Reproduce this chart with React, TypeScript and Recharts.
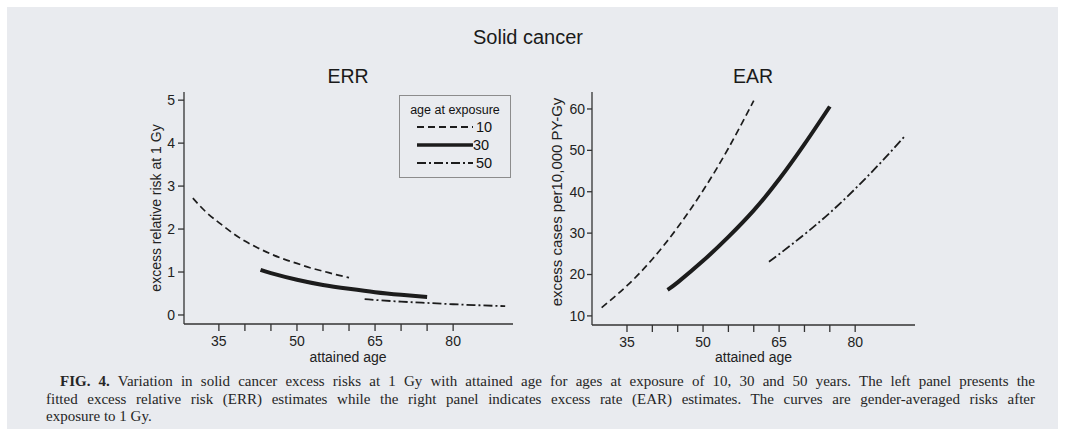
import React from 'react';
import { LineChart, Line, XAxis, YAxis, Legend } from 'recharts';

// attained age (years) and fitted risks
const errAge10 = [30, 32.5, 35, 37.5, 40, 42.5, 45, 47.5, 50, 52.5, 55, 57.5, 60];
const errRisk10 = [2.72, 2.4, 2.15, 1.92, 1.72, 1.56, 1.42, 1.3, 1.2, 1.1, 1.02, 0.94, 0.87];
const errAge30 = [43, 45, 50, 55, 60, 65, 70, 75];
const errRisk30 = [1.05, 0.975, 0.82, 0.7, 0.61, 0.53, 0.47, 0.42];
const errAge50 = [63, 65, 70, 75, 80, 85, 90];
const errRisk50 = [0.37, 0.35, 0.31, 0.28, 0.25, 0.226, 0.205];

const earAge10 = [30, 35, 40, 45, 50, 55, 60];
const earRate10 = [12, 17.3, 23.7, 31.4, 40.3, 50.5, 62];
const earAge30 = [43, 45, 50, 55, 60, 65, 70, 75];
const earRate30 = [16.3, 18.1, 23.3, 29.1, 35.5, 43.0, 51.5, 60.6];
const earAge50 = [63, 65, 70, 75, 80, 85, 90];
const earRate50 = [23.1, 24.9, 29.7, 34.9, 40.7, 47.0, 53.7];

const exposureAges = ['10', '30', '50'];
const ageTicks = [35, 40, 45, 50, 55, 60, 65, 70, 75, 80];
const ageTickLabels = [35, 50, 65, 80];
const errTicks = [0, 1, 2, 3, 4, 5];
const earTicks = [10, 20, 30, 40, 50, 60];

const captionLines = [
  'Variation in solid cancer excess risks at 1 Gy with attained age for ages at exposure of 10, 30 and 50 years. The left panel presents the',
  'fitted excess relative risk (ERR) estimates while the right panel indicates excess rate (EAR) estimates. The curves are gender-averaged risks after',
  'exposure to 1 Gy.',
];

const toPoints = (ages: number[], vals: number[]) => ages.map((age, i) => ({ age, value: vals[i] }));

const ink = '#1c1c1c';
const sans = '"Liberation Sans", Arial, sans-serif';
const serif = '"Liberation Serif", serif';
const lineStyles = [
  { dash: '7 4', width: 1.7 },
  { dash: undefined, width: 4 },
  { dash: '9 3 2 3', width: 1.8 },
];

const errSeries = [toPoints(errAge10, errRisk10), toPoints(errAge30, errRisk30), toPoints(errAge50, errRisk50)];
const earSeries = [toPoints(earAge10, earRate10), toPoints(earAge30, earRate30), toPoints(earAge50, earRate50)];

const axisStyle = { stroke: '#333', strokeWidth: 1.3 };
const tickStyle = { fill: '#222', fontSize: 14, fontFamily: sans };

const ageFormat = (v: number) => (ageTickLabels.includes(v) ? String(v) : '');

const sideTitle = (text: string, cx: number, cy: number, size: number) => () => (
  <text x={cx} y={cy} transform={`rotate(-90 ${cx} ${cy})`} textAnchor="middle" dominantBaseline="central"
    fill="#222" fontSize={size} fontFamily={sans}>{text}</text>
);

const bottomTitle = (text: string, cx: number) => () => (
  <text x={cx} y={362} textAnchor="middle" fill="#222" fontSize={14} fontFamily={sans}>{text}</text>
);

const ExposureLegend = () => (
  <div style={{ border: '1px solid #8c8c8c', width: 110, height: 81, fontFamily: sans, color: '#111', boxSizing: 'content-box' }}>
    <div style={{ fontSize: 12.5, textAlign: 'center', marginTop: 6, lineHeight: '16px' }}>age at exposure</div>
    {exposureAges.map((a, i) => (
      <div key={a} style={{ display: 'flex', alignItems: 'center', height: 18, marginLeft: 17 }}>
        <svg width={56} height={8}>
          <line x1={0} y1={4} x2={56} y2={4} stroke={ink} strokeWidth={lineStyles[i].width === 4 ? 3.5 : 2}
            strokeDasharray={lineStyles[i].dash} />
        </svg>
        <span style={{ fontSize: 14.5, marginLeft: i === 1 ? 0 : 3 }}>{a}</span>
      </div>
    ))}
  </div>
);

const captionStyle: React.CSSProperties = {
  position: 'absolute', fontFamily: serif, fontSize: 15, lineHeight: '17.5px', color: '#262626', whiteSpace: 'nowrap',
};

const App: React.FC = () => {
  return (
    <div style={{ position: 'relative', width: 1077, height: 429, background: '#fff', overflow: 'hidden' }}>
      <style>{'body{margin:0}'}</style>
      <div style={{ position: 'absolute', left: 7, top: 7, width: 1051, height: 422, background: '#e9ebef' }} />

      <div style={{ position: 'absolute', left: 0, top: 26, width: 1056, textAlign: 'center', fontFamily: sans, fontSize: 20, color: '#1a1a1a' }}>
        Solid cancer
      </div>
      <div style={{ position: 'absolute', left: 248, top: 65, width: 200, textAlign: 'center', fontFamily: sans, fontSize: 19.5, color: '#1a1a1a' }}>
        ERR
      </div>
      <div style={{ position: 'absolute', left: 653, top: 65, width: 200, textAlign: 'center', fontFamily: sans, fontSize: 19.5, color: '#1a1a1a' }}>
        EAR
      </div>

      {/* ERR panel */}
      <div style={{ position: 'absolute', left: 0, top: 0 }}>
        <LineChart width={540} height={370} margin={{ top: 92, right: 27, bottom: 16, left: 134 }}>
          <XAxis type="number" dataKey="age" domain={[28.3, 91.5]} ticks={ageTicks} interval={0} tickFormatter={ageFormat}
            height={30} tickSize={7} tickMargin={5} axisLine={axisStyle} tickLine={axisStyle} tick={tickStyle}
            allowDataOverflow label={bottomTitle('attained age', 348)} />
          <YAxis type="number" domain={[-0.21, 5.19]} ticks={errTicks} interval={0} width={50} tickSize={6} tickMargin={3}
            axisLine={axisStyle} tickLine={axisStyle} tick={tickStyle} allowDataOverflow
            label={sideTitle('excess relative risk at 1 Gy', 156, 208, 14)} />
          {errSeries.map((d, i) => (
            <Line key={exposureAges[i]} name={exposureAges[i]} data={d} dataKey="value" type="natural" stroke={ink}
              strokeWidth={lineStyles[i].width} strokeDasharray={lineStyles[i].dash} dot={false} isAnimationActive={false} />
          ))}
          <Legend layout="vertical" align="center" verticalAlign="middle" content={ExposureLegend}
            wrapperStyle={{ left: 399, top: 95, width: 112, height: 83 }} />
        </LineChart>
      </div>

      {/* EAR panel */}
      <div style={{ position: 'absolute', left: 540, top: 0 }}>
        <LineChart width={537} height={370} margin={{ top: 92, right: 162, bottom: 15, left: 2 }}>
          <XAxis type="number" dataKey="age" domain={[28.1, 91.8]} ticks={ageTicks} interval={0} tickFormatter={ageFormat}
            height={30} tickSize={7} tickMargin={5} axisLine={axisStyle} tickLine={axisStyle} tick={tickStyle}
            allowDataOverflow label={bottomTitle('attained age', 213.5)} />
          <YAxis type="number" domain={[7.8, 64.1]} ticks={earTicks} interval={0} width={50} tickSize={5} tickMargin={2}
            axisLine={axisStyle} tickLine={axisStyle} tick={tickStyle} allowDataOverflow
            label={sideTitle('excess cases per10,000 PY-Gy', 16, 202, 15)} />
          {earSeries.map((d, i) => (
            <Line key={exposureAges[i]} name={exposureAges[i]} data={d} dataKey="value" type="natural" stroke={ink}
              strokeWidth={lineStyles[i].width} strokeDasharray={lineStyles[i].dash} dot={false} isAnimationActive={false} />
          ))}
        </LineChart>
      </div>

      {/* caption */}
      <div style={{ ...captionStyle, left: 60, top: 373, width: 975, textAlign: 'justify', textAlignLast: 'justify' }}>
        <b>FIG. 4.</b> {captionLines[0]}
      </div>
      <div style={{ ...captionStyle, left: 46, top: 390.5, width: 989, textAlign: 'justify', textAlignLast: 'justify' }}>
        {captionLines[1]}
      </div>
      <div style={{ ...captionStyle, left: 46, top: 408 }}>
        {captionLines[2]}
      </div>
    </div>
  );
};

export default App;
